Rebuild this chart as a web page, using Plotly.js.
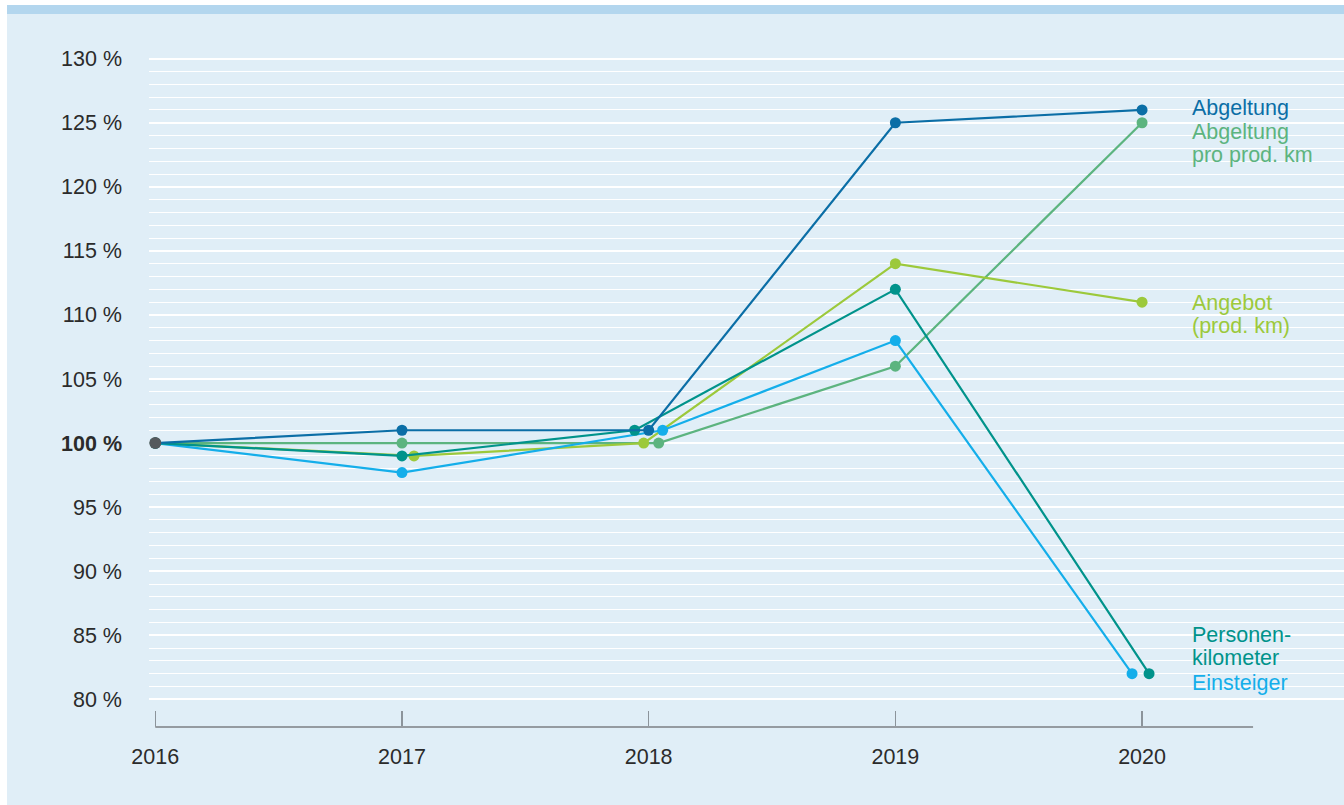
<!DOCTYPE html>
<html>
<head>
<meta charset="utf-8">
<script src="https://cdn.plot.ly/plotly-3.0.1.min.js"></script>
<style>
  html, body { margin: 0; padding: 0; background: #ffffff; }
  #wrap { position: relative; width: 1344px; height: 805px; overflow: hidden; background: #ffffff; }
  #bar { position: absolute; left: 7px; top: 5px; right: 0; height: 9px; background: #b3d6ee; }
  #panel { position: absolute; left: 7px; top: 14px; right: 0; bottom: 0; background: #e0eef7; }
  #chart { position: absolute; left: 0; top: 0; width: 1344px; height: 805px; }
</style>
</head>
<body>
<div id="wrap">
  <div id="bar"></div>
  <div id="panel"></div>
  <div id="chart"></div>
</div>
<script>
// ---- data ----
const years = [2016, 2017, 2018, 2019, 2020];
const xTickText = ["2016", "2017", "2018", "2019", "2020"];

const abgeltung      = [100, 101, 101, 125, 126];
const abgeltungProKm = [100, 100, 100, 106, 125];
const angebot        = [100, 99, 100, 114, 111];
const personenkm     = [100, 99, 101, 112, 82];
const einsteiger     = [100, 97.7, 101, 108, 82];

const seriesNames = ["Abgeltung", "Abgeltung pro prod. km", "Angebot (prod. km)", "Personenkilometer", "Einsteiger"];
const labelLines = [["Abgeltung"], ["Abgeltung", "pro prod. km"], ["Angebot", "(prod. km)"], ["Personen-", "kilometer"], ["Einsteiger"]];

const yTickVals = [80, 85, 90, 95, 100, 105, 110, 115, 120, 125, 130];
const yTickText = ["80 %", "85 %", "90 %", "95 %", "<b>100 %</b>", "105 %", "110 %", "115 %", "120 %", "125 %", "130 %"];

// ---- style ----
const colors = ["#0b6ea6", "#5cb47f", "#9cc93b", "#00938b", "#14aeea"];
const FONT = "Liberation Sans, Arial, sans-serif";
const W = 1344, H = 805;
const margin = {l: 149, r: 0, t: 53, b: 78};
const xRange = [2015.9745, 2020.8186];
const yRange = [77.84, 130.445];
const pxPerYear = (W - margin.l - margin.r) / (xRange[1] - xRange[0]);
// small horizontal dodges (pixels) so overlapping markers stay visible
const dodgePx = [
  [0, 0, 0, 0, 0],
  [0, 0, 10, 0, 0],
  [0, 12, -5, 0, 0],
  [0, 0, -14, 0, 7],
  [0, 0, 14, 0, -10]
];
// label anchor (data units) for the right-hand labels
const labelY = [126.15, 124.3, 110.9, 85.0, 81.3];
const lineGap = 23;

const seriesData = [abgeltung, abgeltungProKm, angebot, personenkm, einsteiger];
const drawOrder = [1, 2, 4, 3, 0];

const traces = drawOrder.map(i => ({
  type: "scatter",
  mode: "lines+markers",
  name: seriesNames[i],
  x: years.map((yr, j) => yr + dodgePx[i][j] / pxPerYear),
  y: seriesData[i],
  line: {color: colors[i], width: 2.2},
  marker: {color: colors[i], size: 11},
  hoverinfo: "x+y+name",
  cliponaxis: false
}));
// common starting point
traces.push({
  type: "scatter", mode: "markers",
  x: [years[0]], y: [abgeltung[0]],
  marker: {color: "#55595d", size: 12},
  showlegend: false, hoverinfo: "skip", cliponaxis: false
});

const minorVals = [];
for (let v = yTickVals[0]; v <= yTickVals[yTickVals.length - 1]; v++) {
  if (yTickVals.indexOf(v) < 0) minorVals.push(v);
}

const annotations = [];
labelLines.forEach((lines, i) => {
  lines.forEach((t, k) => {
    annotations.push({
      x: years[years.length - 1], xref: "x",
      y: labelY[i], yref: "y",
      text: t, showarrow: false,
      xanchor: "left", yanchor: "middle",
      xshift: 48, yshift: -lineGap * k,
      font: {family: FONT, size: 21.5, color: colors[i]}
    });
  });
});

const layout = {
  width: W, height: H,
  margin: margin,
  paper_bgcolor: "rgba(0,0,0,0)",
  plot_bgcolor: "rgba(0,0,0,0)",
  showlegend: false,
  font: {family: FONT, size: 21, color: "#2b2b2b"},
  xaxis: {
    range: xRange,
    tickmode: "array", tickvals: years, ticktext: xTickText,
    ticks: "inside", ticklen: 16, tickwidth: 1.5, tickcolor: "#8c949b",
    showgrid: false, zeroline: false, showline: false,
    ticklabelstandoff: 14,
    tickfont: {family: FONT, size: 21.5, color: "#2b2b2b"},
    fixedrange: true
  },
  yaxis: {
    range: yRange,
    tickmode: "array", tickvals: yTickVals, ticktext: yTickText,
    ticks: "", showline: false, zeroline: false,
    showgrid: true, gridcolor: "#ffffff", gridwidth: 2,
    minor: {tickmode: "array", tickvals: minorVals, showgrid: true, gridcolor: "#ffffff", gridwidth: 1, ticks: ""},
    ticklabelstandoff: 26,
    tickfont: {family: FONT, size: 21.5, color: "#2b2b2b"},
    fixedrange: true
  },
  shapes: [{
    type: "line", xref: "x", yref: "paper",
    x0: years[0], x1: 2020.45, y0: 0, y1: 0,
    line: {color: "#959ba1", width: 2}
  }],
  annotations: annotations
};

Plotly.newPlot("chart", traces, layout, {displayModeBar: false, staticPlot: true});
</script>
</body>
</html>
